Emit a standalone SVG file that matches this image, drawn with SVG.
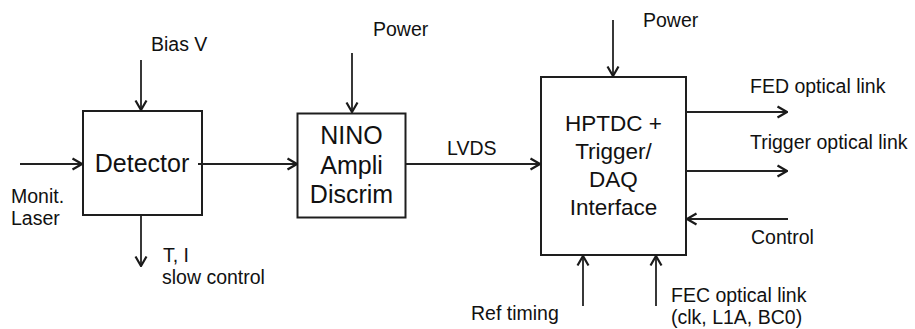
<svg xmlns="http://www.w3.org/2000/svg" width="915" height="329" viewBox="0 0 915 329">
  <style>
    .box { fill: #ffffff; stroke: #1e1e1e; stroke-width: 2; }
    .wire { fill: none; stroke: #222222; stroke-width: 1.8; marker-end: url(#arr); }
    .big { font-family: "Liberation Sans", Arial, sans-serif; font-size: 25px; fill: #111111; text-anchor: middle; }
    .mid { font-family: "Liberation Sans", Arial, sans-serif; font-size: 22.5px; fill: #111111; text-anchor: middle; }
    .lbl { font-family: "Liberation Sans", Arial, sans-serif; font-size: 19.5px; fill: #111111; }
  </style>
  <defs>
    <marker id="arr" viewBox="0 0 12 14" refX="11" refY="7" markerWidth="12" markerHeight="14" orient="auto" markerUnits="userSpaceOnUse">
      <path d="M1.5,1.5 L11,7 L1.5,12.5" fill="none" stroke="#1a1a1a" stroke-width="2.2" stroke-linejoin="miter"/>
    </marker>
  </defs>
  <rect width="915" height="329" fill="#ffffff"/>

  <g id="detector">
    <rect class="box" x="83" y="111" width="119" height="104"/>
    <text class="big" x="142" y="172">Detector</text>
  </g>

  <g id="nino">
    <rect class="box" x="297.5" y="113.5" width="108" height="104"/>
    <text class="big" x="351.5" y="144">NINO</text>
    <text class="big" x="351.5" y="173.5">Ampli</text>
    <text class="big" x="351.5" y="202.5">Discrim</text>
  </g>

  <g id="hptdc">
    <rect class="box" x="541" y="77" width="145" height="178"/>
    <text class="mid" x="613.5" y="131">HPTDC +</text>
    <text class="mid" x="613.5" y="159">Trigger/</text>
    <text class="mid" x="613.5" y="187">DAQ</text>
    <text class="mid" x="613.5" y="214.5">Interface</text>
  </g>

  <g id="connectors">
    <line class="wire" x1="20" y1="164" x2="82" y2="164"/>
    <line class="wire" x1="198" y1="164" x2="297" y2="164"/>
    <line class="wire" x1="141" y1="60" x2="141" y2="110"/>
    <line class="wire" x1="141" y1="216" x2="141" y2="266"/>
    <line class="wire" x1="352" y1="53" x2="352" y2="112"/>
    <line class="wire" x1="406" y1="164" x2="540" y2="164"/>
    <line class="wire" x1="613" y1="20" x2="613" y2="76"/>
    <line class="wire" x1="686" y1="112" x2="787" y2="112"/>
    <line class="wire" x1="686" y1="171" x2="787" y2="171"/>
    <line class="wire" x1="788" y1="219" x2="687" y2="219"/>
    <line class="wire" x1="583" y1="306" x2="583" y2="256"/>
    <line class="wire" x1="656" y1="306" x2="656" y2="256"/>
  </g>

  <g id="labels">
    <text class="lbl" x="151" y="50.5">Bias V</text>
    <text class="lbl" x="373" y="36">Power</text>
    <text class="lbl" x="643" y="27">Power</text>
    <text class="lbl" x="447" y="155">LVDS</text>
    <text class="lbl" x="11" y="202.5">Monit.</text>
    <text class="lbl" x="11" y="225">Laser</text>
    <text class="lbl" x="163" y="261.5">T, I</text>
    <text class="lbl" x="162" y="284">slow control</text>
    <text class="lbl" x="750" y="92.5">FED optical link</text>
    <text class="lbl" x="750" y="149">Trigger optical link</text>
    <text class="lbl" x="751" y="244">Control</text>
    <text class="lbl" x="471" y="320">Ref timing</text>
    <text class="lbl" x="671" y="301.5">FEC optical link</text>
    <text class="lbl" x="671" y="324">(clk, L1A, BC0)</text>
  </g>
</svg>
